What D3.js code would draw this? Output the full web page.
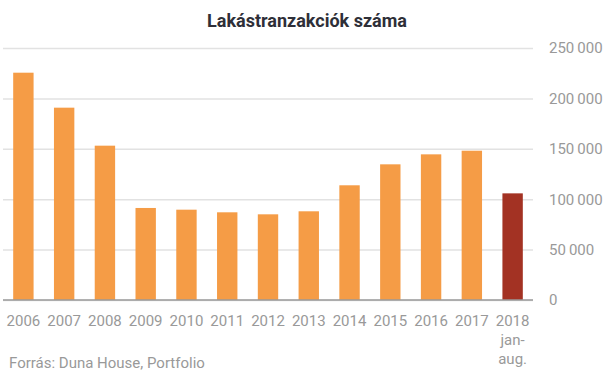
<!DOCTYPE html>
<html>
<head>
<meta charset="utf-8">
<script src="https://cdn.jsdelivr.net/npm/d3@7"></script>
<style>
  body { margin: 0; background: #fff; }
  svg { display: block; font-family: Roboto, "Noto Sans", sans-serif; }
</style>
</head>
<body>
<svg id="chart" width="608" height="385"></svg>
<script>
// data
const years = ["2006", "2007", "2008", "2009", "2010", "2011", "2012", "2013", "2014", "2015", "2016", "2017", "2018"];
const transactions = [225500, 190800, 153100, 91300, 89600, 87000, 85000, 88000, 113800, 134600, 144500, 148100, 105800];
const yTicks = [0, 50000, 100000, 150000, 200000, 250000];
const partialYear = "2018";
const partialNote = ["jan-", "aug."];

const svg = d3.select("#chart");
const plotLeft = 3, plotRight = 533, plotTop = 48, plotBottom = 300;

const x = d3.scaleBand().domain(years).range([plotLeft, plotRight]).paddingInner(0.5).paddingOuter(0.25);
const y = d3.scaleLinear().domain([0, 250000]).range([plotBottom, plotTop]);

const fmt = v => d3.format(",")(v).replace(/,/g, "\u2009");

// title
svg.append("text").attr("x", 307).attr("y", 27).attr("text-anchor", "middle")
    .style("font-size", "18px").style("font-weight", "bold").style("fill", "#2e2f38")
    .text("Lakástranzakciók száma");

// gridlines + y labels
const yAxis = svg.append("g").attr("transform", `translate(${plotRight},0)`)
    .call(d3.axisRight(y).tickValues(yTicks).tickSize(-(plotRight - plotLeft)).tickPadding(16).tickFormat(fmt));
yAxis.select(".domain").remove();
yAxis.selectAll(".tick line").attr("stroke", "#e2e2e2").attr("stroke-width", 1.5);
yAxis.selectAll(".tick text").attr("fill", "#999").style("font-size", "15px").style("font-family", "Roboto");

// bars
svg.append("g").selectAll("rect").data(years).join("rect")
    .attr("x", d => x(d))
    .attr("y", (d, i) => y(transactions[i]))
    .attr("width", x.bandwidth())
    .attr("height", (d, i) => y(0) - y(transactions[i]))
    .attr("fill", d => d === partialYear ? "#a33223" : "#f59c46");

// baseline
svg.append("line").attr("x1", plotLeft).attr("x2", plotRight).attr("y1", y(0)).attr("y2", y(0))
    .attr("stroke", "#9a9a9a").attr("stroke-width", 1.5);

// x labels
const xAxis = svg.append("g").attr("transform", `translate(0,${plotBottom})`)
    .call(d3.axisBottom(x).tickSize(0).tickPadding(15));
xAxis.select(".domain").remove();
xAxis.selectAll(".tick text").attr("fill", "#999").style("font-size", "15px").style("font-family", "Roboto");

xAxis.selectAll(".tick").filter(d => d === partialYear).each(function () {
    const t = d3.select(this).select("text");
    partialNote.forEach((s, i) => {
        d3.select(this).append("text")
            .attr("y", +t.attr("y") + 19 * (i + 1))
            .attr("dy", t.attr("dy"))
            .attr("fill", "#999").style("font-size", "15px").style("font-family", "Roboto")
            .text(s);
    });
});

// source
svg.append("text").attr("x", 9).attr("y", 368)
    .style("font-size", "15px").style("fill", "#999")
    .text("Forrás: Duna House, Portfolio");
</script>
</body>
</html>
